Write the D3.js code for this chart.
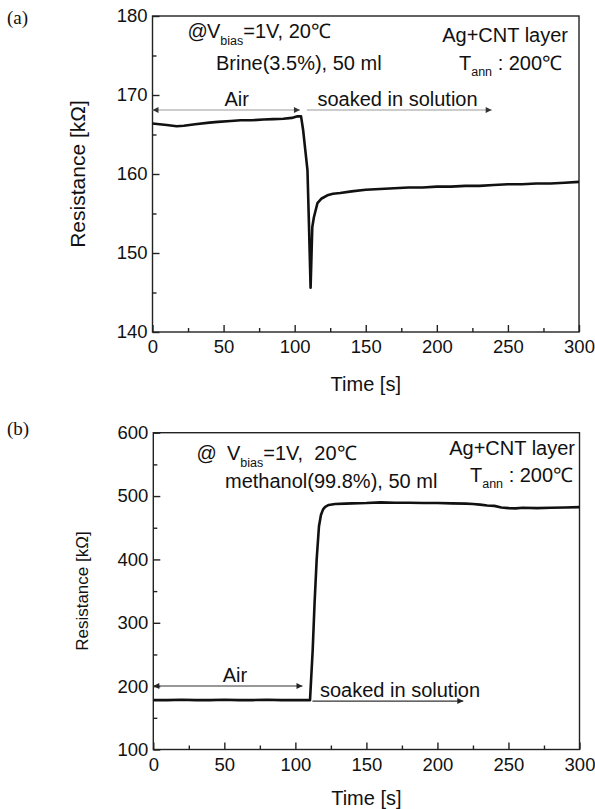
<!DOCTYPE html>
<html lang="en">
<head>
<meta charset="UTF-8">
<title>Resistance vs time, Ag+CNT layer</title>
<script src="https://cdnjs.cloudflare.com/ajax/libs/d3/7.8.5/d3.min.js"></script>
<style>
    body { margin: 0; background: #fff; }
    svg { display: block; font-family: Arial, "Liberation Sans", sans-serif; }
    .axis path, .axis line { stroke: #222; stroke-width: 1.4px; }
    .axis text { font-size: 18.5px; fill: #111; font-family: Arial, "Liberation Sans", sans-serif; }
    .note { font-size: 20px; fill: #111; white-space: pre; }
    .trace { fill: none; stroke: #111; stroke-width: 2.6px; stroke-linejoin: round; }
</style>
</head>
<body>
<svg width="595" height="809"></svg>
<script>
    // panel (a): brine 3.5%
    const timeA = [0, 5, 10, 17, 22, 30, 40, 46, 55, 62, 70, 78, 85, 92, 98, 102, 104.5,
        106, 107.5, 109, 110.1, 111.2, 112.4, 113.5, 116, 119, 123, 127, 132, 140, 150,
        160, 170, 180, 190, 200, 210, 220, 230, 240, 250, 260, 270, 280, 290, 300];
    const resA = [166.4, 166.3, 166.2, 166.05, 166.1, 166.3, 166.5, 166.6, 166.7, 166.8, 166.8, 166.9, 166.95, 167.0, 167.1, 167.3, 167.3,
        165.5, 163.0, 160.5, 153.3, 145.6, 153.3, 154.5, 156.3, 156.9, 157.3, 157.5, 157.6, 157.8, 158.0,
        158.1, 158.2, 158.3, 158.3, 158.4, 158.4, 158.5, 158.5, 158.6, 158.7, 158.7, 158.8, 158.8, 158.9, 159.0];

    // panel (b): methanol 99.8%
    const timeB = [0, 10, 20, 30, 40, 50, 60, 70, 80, 90, 100, 106, 110.3, 112.2, 113.5, 115,
        116.6, 118, 119.5, 121, 123.5, 128, 135, 140, 150, 160, 170, 180, 190, 200,
        210, 220, 225, 230, 235, 240, 245, 250, 255, 260, 270, 280, 290, 300];
    const resB = [178, 178, 178.5, 178, 178, 178.5, 178, 178, 178.5, 178, 178, 178, 178, 257, 330, 400,
        452, 470, 479, 483, 486, 487.5, 488, 488.5, 489, 490, 489.5, 489.5, 489, 489,
        488.5, 488, 487.5, 486.5, 485, 484.5, 482, 481, 480.5, 481.5, 481, 481.5, 482, 482.5];

    const xTicks = [0, 50, 100, 150, 200, 250, 300];
    const xMinor = [25, 75, 125, 175, 225, 275];
    const yTicksA = [140, 150, 160, 170, 180];
    const yMinorA = [145, 155, 165, 175];
    const yTicksB = [100, 200, 300, 400, 500, 600];
    const yMinorB = [150, 250, 350, 450, 550];

    const svg = d3.select("svg");
    const defs = svg.append("defs");
    function marker(id, color, orient) {
        defs.append("marker")
            .attr("id", id)
            .attr("viewBox", "0 0 10 10")
            .attr("refX", 10).attr("refY", 5)
            .attr("markerUnits", "userSpaceOnUse")
            .attr("markerWidth", 9).attr("markerHeight", 6)
            .attr("orient", orient)
            .append("path").attr("d", "M0,0 L10,5 L0,10 z").attr("fill", color);
    }
    marker("headA", "#333", "auto");
    marker("headAstart", "#333", "auto-start-reverse");
    marker("headB", "#222", "auto");
    marker("headBstart", "#222", "auto-start-reverse");

    function panel(p) {
        const x = d3.scaleLinear().domain([0, 300]).range([p.left, p.right]);
        const y = d3.scaleLinear().domain(p.yDomain).range([p.bottom, p.top]);
        const g = svg.append("g");

        // frame
        g.append("rect")
            .attr("x", p.left).attr("y", p.top)
            .attr("width", p.right - p.left).attr("height", p.bottom - p.top)
            .attr("fill", "none").attr("stroke", "#222").attr("stroke-width", 1.4);

        // inward ticks, minor then major
        g.append("g").attr("class", "axis").attr("transform", `translate(0,${p.bottom})`)
            .call(d3.axisBottom(x).tickValues(xMinor).tickSize(-4).tickFormat(""));
        g.append("g").attr("class", "axis").attr("transform", `translate(0,${p.bottom})`)
            .call(d3.axisBottom(x).tickValues(xTicks).tickSize(-7).tickPadding(8).tickFormat(d3.format("d")));
        g.append("g").attr("class", "axis").attr("transform", `translate(${p.left},0)`)
            .call(d3.axisLeft(y).tickValues(p.yMinor).tickSize(-4).tickFormat(""));
        g.append("g").attr("class", "axis").attr("transform", `translate(${p.left},0)`)
            .call(d3.axisLeft(y).tickValues(p.yTicks).tickSize(-7).tickPadding(5).tickFormat(d3.format("d")));
        g.selectAll(".axis .domain").remove();

        // axis titles
        g.append("text")
            .attr("x", (p.left + p.right) / 2).attr("y", p.xTitleY)
            .attr("text-anchor", "middle").attr("font-size", 20).attr("fill", "#111")
            .text("Time [s]");
        g.append("text")
            .attr("transform", `translate(${p.yTitleX},${(p.top + p.bottom) / 2}) rotate(-90)`)
            .attr("text-anchor", "middle").attr("font-size", p.yTitleSize).attr("fill", "#111")
            .text("Resistance [kΩ]");

        // panel letter
        svg.append("text")
            .attr("x", 7).attr("y", p.letterY)
            .attr("font-family", "'Liberation Serif', 'Times New Roman', serif")
            .attr("font-size", 19).attr("fill", "#111")
            .text(p.letter);

        // data
        const line = d3.line().x(d => x(d[0])).y(d => y(d[1]));
        g.append("path").attr("class", "trace")
            .attr("d", line(d3.zip(p.time, p.res)));

        // arrows
        g.append("line")
            .attr("x1", x(0)).attr("x2", x(p.airEnd))
            .attr("y1", y(p.airY)).attr("y2", y(p.airY))
            .attr("stroke", p.arrowColor).attr("stroke-width", 1.2)
            .attr("marker-start", `url(#${p.head}start)`).attr("marker-end", `url(#${p.head})`);
        g.append("line")
            .attr("x1", x(p.soakStart)).attr("x2", x(p.soakEnd))
            .attr("y1", y(p.soakY)).attr("y2", y(p.soakY))
            .attr("stroke", p.arrowColor).attr("stroke-width", 1.2)
            .attr("marker-end", `url(#${p.head})`);
        g.append("text").attr("class", "note")
            .attr("x", x(p.airTextT)).attr("y", y(p.airY) - 4)
            .attr("text-anchor", "middle").text("Air");
        g.append("text").attr("class", "note")
            .attr("x", x(p.soakStart) + p.soakTextDx).attr("y", y(p.soakY) - 4)
            .text("soaked in solution");

        // condition notes
        g.append("text").attr("class", "note").attr("font-size", 18)
            .attr("x", p.atX).attr("y", p.line1Y).text("@");
        const t1 = g.append("text").attr("class", "note")
            .attr("x", p.vX).attr("y", p.line1Y);
        t1.append("tspan").text("V");
        t1.append("tspan").attr("font-size", 12.5).attr("dy", 7).text("bias");
        t1.append("tspan").attr("dy", -7).text(p.biasRest);
        g.append("text").attr("class", "note")
            .attr("x", p.line2X).attr("y", p.line2Y).text(p.solution);

        g.append("text").attr("class", "note")
            .attr("x", p.rightX).attr("y", p.agY)
            .attr("text-anchor", "end").text("Ag+CNT layer");
        const t2 = g.append("text").attr("class", "note")
            .attr("x", p.tannX).attr("y", p.tannY);
        t2.append("tspan").text("T");
        t2.append("tspan").attr("font-size", 12.5).attr("dy", 6).text("ann");
        t2.append("tspan").attr("dy", -6).text("\u00a0: 200℃");
    }

    panel({
        letter: "(a)", letterY: 24,
        left: 152.5, right: 579, top: 16, bottom: 332,
        yDomain: [140, 180], yTicks: yTicksA, yMinor: yMinorA,
        time: timeA, res: resA,
        xTitleY: 391, yTitleX: 85, yTitleSize: 21,
        airEnd: 103.7, airY: 168.1, airTextT: 59.2,
        soakStart: 108.6, soakEnd: 238.6, soakY: 168.1, soakTextDx: 10.6,
        arrowColor: "#9a9a9a", head: "headA",
        atX: 187.5, vX: 207, line1Y: 38, biasRest: "=1V,\u00a020℃",
        line2X: 216, line2Y: 70, solution: "Brine(3.5%), 50 ml",
        rightX: 568, agY: 41.5, tannX: 459, tannY: 70
    });

    panel({
        letter: "(b)", letterY: 435,
        left: 153.3, right: 579.5, top: 432.7, bottom: 749.5,
        yDomain: [100, 600], yTicks: yTicksB, yMinor: yMinorB,
        time: timeB, res: resB,
        xTitleY: 805, yTitleX: 88, yTitleSize: 17,
        airEnd: 105, airY: 200.2, airTextT: 57.5,
        soakStart: 112, soakEnd: 218.2, soakY: 176.5, soakTextDx: 7.6,
        arrowColor: "#333", head: "headB",
        atX: 196.5, vX: 227, line1Y: 459.5, biasRest: "=1V,\u00a0\u00a020℃",
        line2X: 225, line2Y: 488, solution: "methanol(99.8%), 50 ml",
        rightX: 575, agY: 455, tannX: 470, tannY: 481.5
    });
</script>
</body>
</html>
